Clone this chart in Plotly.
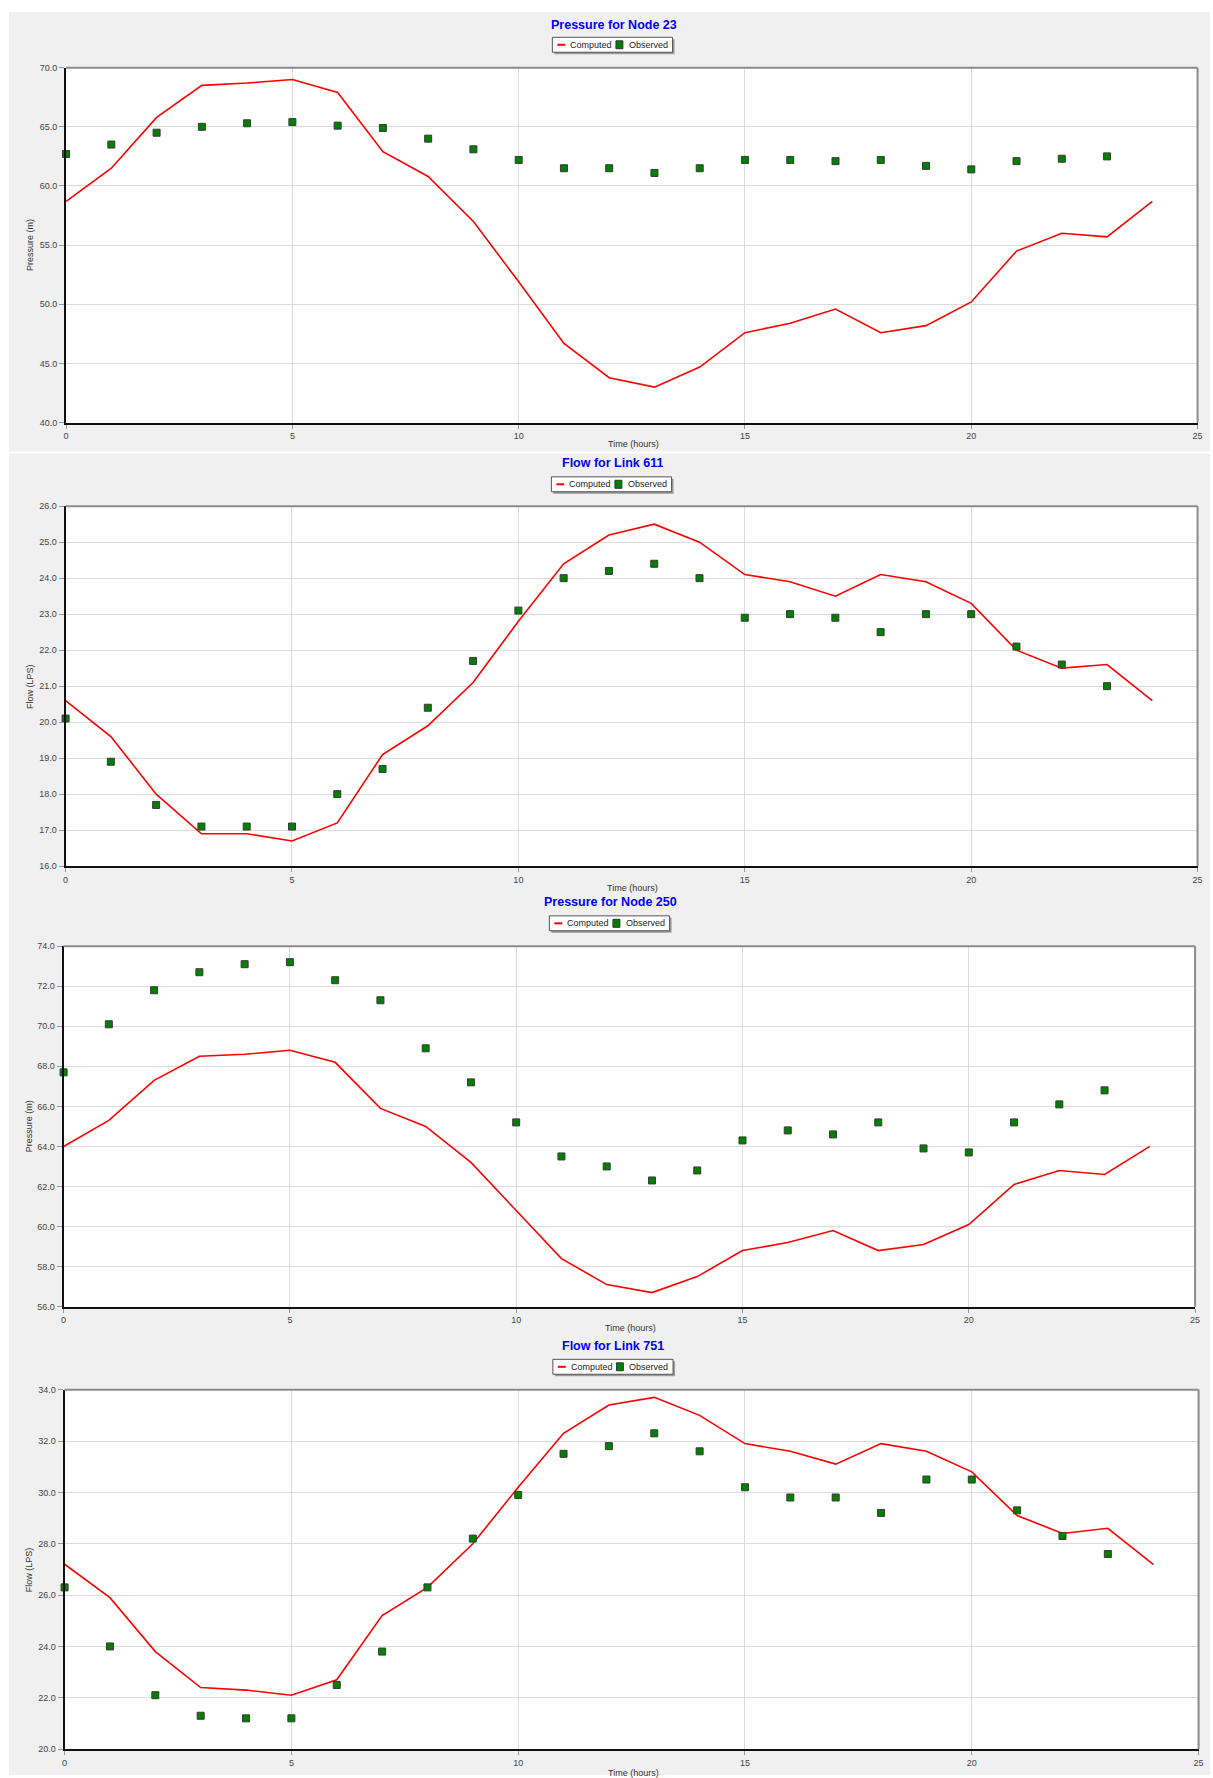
import plotly.graph_objects as go

W, H = 1213, 1778

# ---- data -------------------------------------------------------------
hours = list(range(25))          # computed series, hourly 0..24
obs_hours = list(range(24))      # observed series, hourly 0..23
x_ticks = [0, 5, 10, 15, 20, 25]

node23_computed = [58.7, 61.5, 65.8, 68.5, 68.7, 69.0, 67.9, 62.9, 60.8, 57.0,
                   51.9, 46.7, 43.8, 43.0, 44.7, 47.6, 48.4, 49.6, 47.6, 48.2,
                   50.2, 54.5, 56.0, 55.7, 58.7]
node23_observed = [62.7, 63.5, 64.5, 65.0, 65.3, 65.4, 65.1, 64.9, 64.0, 63.1,
                   62.2, 61.5, 61.5, 61.1, 61.5, 62.2, 62.2, 62.1, 62.2, 61.7,
                   61.4, 62.1, 62.3, 62.5]

link611_computed = [20.6, 19.6, 18.0, 16.9, 16.9, 16.7, 17.2, 19.1, 19.9, 21.1,
                    22.8, 24.4, 25.2, 25.5, 25.0, 24.1, 23.9, 23.5, 24.1, 23.9,
                    23.3, 22.0, 21.5, 21.6, 20.6]
link611_observed = [20.1, 18.9, 17.7, 17.1, 17.1, 17.1, 18.0, 18.7, 20.4, 21.7,
                    23.1, 24.0, 24.2, 24.4, 24.0, 22.9, 23.0, 22.9, 22.5, 23.0,
                    23.0, 22.1, 21.6, 21.0]

node250_computed = [64.0, 65.3, 67.3, 68.5, 68.6, 68.8, 68.2, 65.9, 65.0, 63.2,
                    60.8, 58.4, 57.1, 56.7, 57.5, 58.8, 59.2, 59.8, 58.8, 59.1,
                    60.1, 62.1, 62.8, 62.6, 64.0]
node250_observed = [67.7, 70.1, 71.8, 72.7, 73.1, 73.2, 72.3, 71.3, 68.9, 67.2,
                    65.2, 63.5, 63.0, 62.3, 62.8, 64.3, 64.8, 64.6, 65.2, 63.9,
                    63.7, 65.2, 66.1, 66.8]

link751_computed = [27.2, 25.9, 23.8, 22.4, 22.3, 22.1, 22.7, 25.2, 26.3, 28.0,
                    30.2, 32.3, 33.4, 33.7, 33.0, 31.9, 31.6, 31.1, 31.9, 31.6,
                    30.8, 29.1, 28.4, 28.6, 27.2]
link751_observed = [26.3, 24.0, 22.1, 21.3, 21.2, 21.2, 22.5, 23.8, 26.3, 28.2,
                    29.9, 31.5, 31.8, 32.3, 31.6, 30.2, 29.8, 29.8, 29.2, 30.5,
                    30.5, 29.3, 28.3, 27.6]

# ---- panel layout (pixel geometry) --------------------------------------
panels = [
    dict(title="Pressure for Node 23", ytitle="Pressure (m)",
         computed=node23_computed, observed=node23_observed,
         yrange=[40, 70], dtick=5,
         box=(63.5, 1202.5, 63, 420), title_xy=(615, 20),
         legend_xy=(553, 32.5), time_xy=(635, 441.5)),
    dict(title="Flow for Link 611", ytitle="Flow (LPS)",
         computed=link611_computed, observed=link611_observed,
         yrange=[16, 26], dtick=1,
         box=(63, 1202.5, 504, 866), title_xy=(614, 460.5),
         legend_xy=(552, 474.5), time_xy=(634, 887.5)),
    dict(title="Pressure for Node 250", ytitle="Pressure (m)",
         computed=node250_computed, observed=node250_observed,
         yrange=[56, 74], dtick=2,
         box=(61, 1200, 946.5, 1309), title_xy=(612, 902.5),
         legend_xy=(550, 916), time_xy=(632, 1330.5)),
    dict(title="Flow for Link 751", ytitle="Flow (LPS)",
         computed=link751_computed, observed=link751_observed,
         yrange=[20, 34], dtick=2,
         box=(62, 1203.5, 1392.5, 1754), title_xy=(614, 1349),
         legend_xy=(553.5, 1362), time_xy=(634.5, 1778)),
]

FONT = "Liberation Sans, Arial, sans-serif"
RED = "#ff0000"
GREEN = "#008000"
GRID = "#dcdcdc"
PANEL_BG = "#f0f0f0"


def fx(px):
    return px / W


def fy(py):
    return 1 - py / H


fig = go.Figure()
shapes = []
annotations = []

# grey window backgrounds (white seam between first and second window)
shapes.append(dict(type="rect", xref="paper", yref="paper", layer="below",
                   x0=fx(6), x1=fx(W + 2), y0=fy(7), y1=fy(449),
                   fillcolor=PANEL_BG, line=dict(width=0)))
shapes.append(dict(type="rect", xref="paper", yref="paper", layer="below",
                   x0=fx(6), x1=fx(W + 2), y0=fy(451), y1=fy(H + 2),
                   fillcolor=PANEL_BG, line=dict(width=0)))
# white plotting areas on top of the grey windows
for p in panels:
    x0, x1, y0, y1 = p["box"]
    shapes.append(dict(type="rect", xref="paper", yref="paper", layer="below",
                       x0=fx(x0), x1=fx(x1), y0=fy(y1), y1=fy(y0),
                       fillcolor="#ffffff", line=dict(width=0)))

for i, p in enumerate(panels, start=1):
    xa = "x" if i == 1 else f"x{i}"
    ya = "y" if i == 1 else f"y{i}"
    xkey = "xaxis" if i == 1 else f"xaxis{i}"
    ykey = "yaxis" if i == 1 else f"yaxis{i}"
    x0, x1, y0, y1 = p["box"]

    fig.add_trace(go.Scatter(
        x=hours, y=p["computed"], mode="lines", name="Computed",
        line=dict(color=RED, width=1.6), xaxis=xa, yaxis=ya, showlegend=False))
    fig.add_trace(go.Scatter(
        x=obs_hours, y=p["observed"], mode="markers", name="Observed",
        marker=dict(symbol="square", size=7, color=GREEN,
                    line=dict(color="#3a3a3a", width=1)),
        xaxis=xa, yaxis=ya, showlegend=False, cliponaxis=False))

    fig.layout[xkey] = dict(
        domain=[fx(x0), fx(x1)], range=[0, 25], anchor=ya,
        tickvals=x_ticks, ticktext=[str(v) for v in x_ticks],
        showgrid=True, gridcolor=GRID, gridwidth=1.2, zeroline=False,
        showline=True, linecolor="#111111", linewidth=2,
        ticks="outside", ticklen=4, tickcolor="#999999", tickwidth=1,
        tickfont=dict(family=FONT, size=9, color="#444444"),
        fixedrange=True)
    fig.layout[ykey] = dict(
        domain=[fy(y1), fy(y0)], range=p["yrange"], anchor=xa,
        dtick=p["dtick"], tick0=p["yrange"][0], tickformat=".1f",
        showgrid=True, gridcolor=GRID, gridwidth=1.2, zeroline=False,
        showline=True, linecolor="#111111", linewidth=2,
        ticks="outside", ticklen=5, tickcolor="#999999", tickwidth=1,
        tickfont=dict(family=FONT, size=9, color="#444444"),
        fixedrange=True)

    # light top / right frame of the plot area
    shapes.append(dict(type="line", xref=f"{xa} domain", yref=f"{ya} domain",
                       x0=0, x1=1, y0=1, y1=1,
                       line=dict(color="#8c8c8c", width=2)))
    shapes.append(dict(type="line", xref=f"{xa} domain", yref=f"{ya} domain",
                       x0=1, x1=1, y0=0, y1=1,
                       line=dict(color="#8c8c8c", width=2)))

    # chart title
    tx, ty = p["title_xy"]
    annotations.append(dict(text=f"<b>{p['title']}</b>", xref="paper", yref="paper",
                            x=fx(tx), y=fy(ty), xanchor="center", yanchor="middle",
                            showarrow=False,
                            font=dict(family=FONT, size=12.5, color="#0000ff")))

    # axis titles
    cx, cy = p["time_xy"]
    annotations.append(dict(text="Time (hours)", xref="paper", yref="paper",
                            x=fx(cx), y=fy(cy), xanchor="center", yanchor="middle",
                            showarrow=False,
                            font=dict(family=FONT, size=9, color="#333333")))
    annotations.append(dict(text=p["ytitle"], xref="paper", yref="paper",
                            x=fx(27), y=fy((y0 + y1) / 2), textangle=-90,
                            xanchor="center", yanchor="middle", showarrow=False,
                            font=dict(family=FONT, size=9, color="#333333")))

    # legend box with drop shadow
    lx, ly = p["legend_xy"]
    lw, lh = 121, 15
    shapes.append(dict(type="rect", xref="paper", yref="paper",
                       x0=fx(lx + 2), x1=fx(lx + lw + 2), y0=fy(ly + 2), y1=fy(ly + lh + 2),
                       fillcolor="#9a9a9a", line=dict(width=0)))
    shapes.append(dict(type="rect", xref="paper", yref="paper",
                       x0=fx(lx), x1=fx(lx + lw), y0=fy(ly), y1=fy(ly + lh),
                       fillcolor="#ffffff", line=dict(color="#555555", width=1)))
    mid = ly + lh / 2
    shapes.append(dict(type="line", xref="paper", yref="paper",
                       x0=fx(lx + 5), x1=fx(lx + 13), y0=fy(mid), y1=fy(mid),
                       line=dict(color=RED, width=2)))
    shapes.append(dict(type="rect", xref="paper", yref="paper",
                       x0=fx(lx + 64), x1=fx(lx + 71), y0=fy(mid - 4), y1=fy(mid + 4),
                       fillcolor=GREEN, line=dict(color="#333333", width=1)))
    annotations.append(dict(text="Computed", xref="paper", yref="paper",
                            x=fx(lx + 16), y=fy(mid), xanchor="left", yanchor="middle",
                            showarrow=False,
                            font=dict(family=FONT, size=9, color="#222222")))
    annotations.append(dict(text="Observed", xref="paper", yref="paper",
                            x=fx(lx + 75), y=fy(mid), xanchor="left", yanchor="middle",
                            showarrow=False,
                            font=dict(family=FONT, size=9, color="#222222")))

fig.update_layout(
    width=W, height=H,
    margin=dict(l=0, r=0, t=0, b=0),
    paper_bgcolor="#ffffff",
    plot_bgcolor="#ffffff",
    showlegend=False,
    shapes=shapes,
    annotations=annotations,
    font=dict(family=FONT),
)

fig.write_html("out.html", config={"displayModeBar": False})
